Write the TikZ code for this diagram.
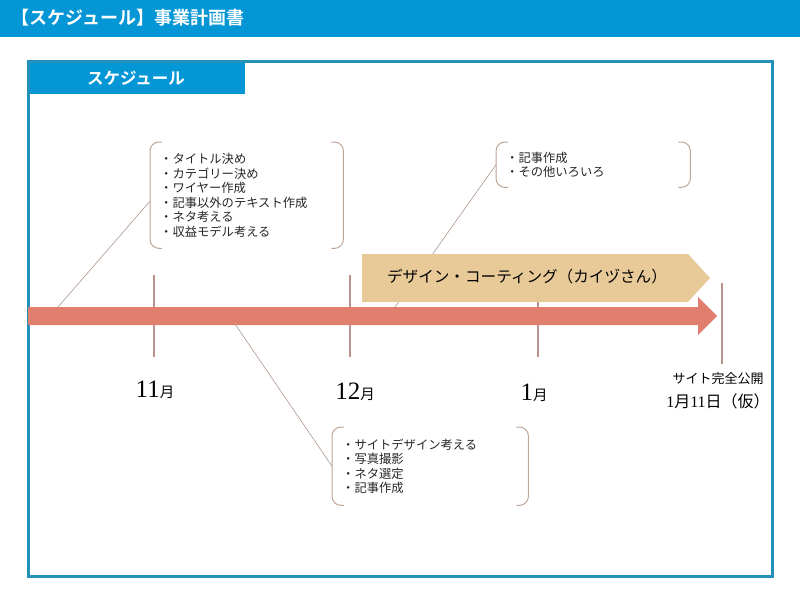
\documentclass[tikz,border=0pt]{standalone}
\usepackage{fontspec}
\setmainfont{Liberation Serif}
\newfontfamily\jp{Noto Sans CJK JP}[BoldFont=Noto Sans CJK JP Bold]
\definecolor{hdblue}{RGB}{5,150,214}
\definecolor{frblue}{RGB}{35,145,185}
\definecolor{salmon}{RGB}{224,127,110}
\definecolor{tanbox}{RGB}{232,201,152}
\definecolor{tickcol}{RGB}{184,146,138}
\definecolor{brkcol}{RGB}{190,165,150}
\definecolor{lnkcol}{RGB}{175,150,140}
\newcommand{\mon}[1]{{\fontsize{25}{25}\selectfont #1}{\jp\fontsize{14.5}{14.5}\selectfont 月}}
\tikzset{
  notebox/.style={anchor=north west, align=left, inner xsep=10pt, inner ysep=0pt, text=black!85,
    font=\jp\fontsize{12.3}{14.5}\selectfont},
  bracket/.style={draw=brkcol, line width=1pt, rounded corners=9pt},
  link/.style={draw=lnkcol, line width=0.6pt},
  tickline/.style={draw=tickcol, line width=1.6pt}
}

\begin{document}
\begin{tikzpicture}[x=1pt,y=-1pt]
\useasboundingbox (0,0) rectangle (800,600);
% Header:
\fill[hdblue] (0,0) rectangle (800,37);
\node (title) [anchor=west, text=white] at (8,18) {\jp\bfseries\fontsize{18}{18}\selectfont 【スケジュール】事業計画書};
% Frame and tab:
\fill[hdblue] (28,61) rectangle (245,94);
\draw[frblue, line width=3pt] (28,61) rectangle (772,576);
\node (tab) [text=white] at (136,78) {\jp\bfseries\fontsize{16.5}{16.5}\selectfont スケジュール};
% Notes:
\node (todo1) [notebox, text width=173pt, minimum height=106pt] at (150,142)
  {・タイトル決め\\・カテゴリー決め\\・ワイヤー作成\\・記事以外のテキスト作成\\・ネタ考える\\・収益モデル考える};
\node (todo2) [notebox, text width=174pt, minimum height=45pt] at (496,142)
  {・記事作成\\・その他いろいろ};
\node (todo3) [notebox, text width=176pt, minimum height=78pt] at (332,427)
  {・サイトデザイン考える\\・写真撮影\\・ネタ選定\\・記事作成};
\foreach \n in {todo1,todo2,todo3} {
  \draw[bracket] ([xshift=12pt]\n.north west) -- (\n.north west) -- (\n.south west) -- ([xshift=12pt]\n.south west);
  \draw[bracket] ([xshift=-12pt]\n.north east) -- (\n.north east) -- (\n.south east) -- ([xshift=-12pt]\n.south east);
}
% Connectors:
\coordinate (c1) at (58,307);
\coordinate (c2) at (395,307);
\coordinate (c3) at (235,324);
\draw[link] (c1) -- ([yshift=-6pt]todo1.west);
\draw[link] (c2) -- (todo2.west);
\draw[link] (c3) -- (todo3.west);
% Ticks:
\foreach \x in {154,350,538} \draw[tickline] (\x,275) -- (\x,357);
\draw[tickline] (722,283) -- (722,364);
% Timeline:
\fill[salmon] (28,307) -- (698,307) -- (698,297) -- (717,316) -- (698,335) -- (698,325) -- (28,325) -- cycle;
\fill[tanbox] (362,254) -- (688,254) -- (710,278) -- (688,302) -- (362,302) -- cycle;
\node (design) at (527,277) {\jp\fontsize{15.6}{15.6}\selectfont デザイン・コーティング（カイヅさん）};
% Months:
\node (m11) [anchor=base] at (155,397) {\mon{11}};
\node (m12) [anchor=base] at (355,399) {\mon{12}};
\node (m1) [anchor=base] at (534,400) {\mon{1}};
\node (rel) at (718,379) {\jp\fontsize{13}{13}\selectfont サイト完全公開};
\node (reldate) at (718,401) {\fontsize{16}{16}\selectfont 1{\jp 月}11{\jp 日（仮）}};
\end{tikzpicture}
\end{document}
